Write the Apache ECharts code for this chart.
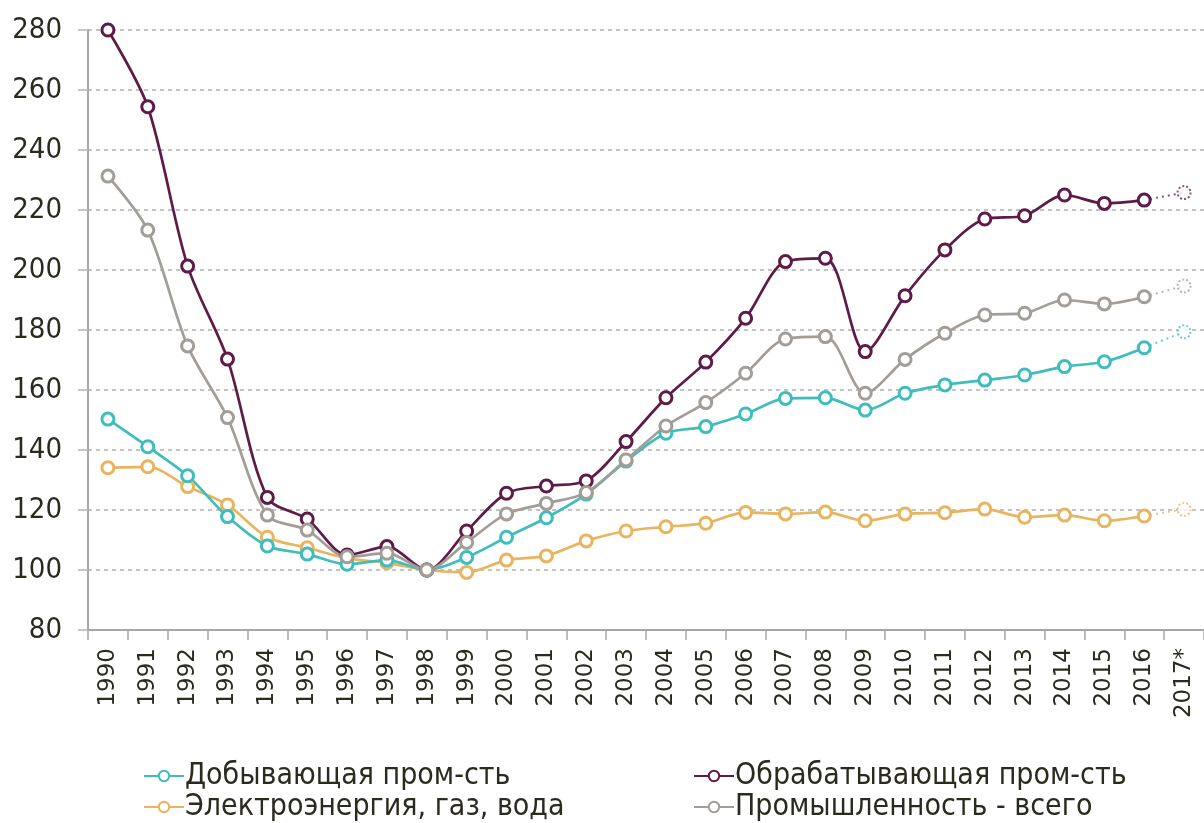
<!DOCTYPE html>
<html>
<head>
<meta charset="utf-8">
<script src="https://cdn.jsdelivr.net/npm/echarts@6/dist/echarts.min.js"></script>
<style>html,body{margin:0;padding:0;background:#fff}#c{width:1204px;height:823px}</style>
</head>
<body>
<div id="c"></div>
<script>
const years = ['1990','1991','1992','1993','1994','1995','1996','1997','1998','1999','2000','2001','2002','2003','2004','2005','2006','2007','2008','2009','2010','2011','2012','2013','2014','2015','2016','2017*'];
const yTicks = [80, 100, 120, 140, 160, 180, 200, 220, 240, 260, 280];

const mining = [150.3,141.1,131.4,117.8,108,105.3,101.9,103.3,100,104.2,110.9,117.4,125.3,136.3,145.6,147.8,152,157.2,157.4,153.3,158.9,161.7,163.3,165,167.8,169.4,174.1];
const miningForecast = 179.4;
const energy = [134.1,134.4,127.8,121.7,110.9,107.4,103.9,102.4,100,99.2,103.3,104.7,109.7,113,114.4,115.6,119.2,118.7,119.3,116.4,118.7,119.1,120.3,117.6,118.3,116.4,118];
const energyForecast = 120.2;
const manufacturing = [280,254.4,201.3,170.3,124.2,117,105,107.8,100,113,125.6,128,129.7,142.8,157.4,169.3,183.9,202.8,203.9,172.8,191.4,206.7,217,218.1,225,222.2,223.3];
const manufacturingForecast = 225.8;
const total = [231.3,213.3,174.7,150.8,118.3,113.3,104.4,105.6,100,109.2,118.7,122.2,125.8,136.7,148,155.8,165.6,177,177.8,158.9,170.2,178.9,185,185.6,190,188.7,191.1];
const totalForecast = 194.7;

const names = {
  mining: 'Добывающая пром-сть',
  manuf: 'Обрабатывающая пром-сть',
  energy: 'Электроэнергия, газ, вода',
  total: 'Промышленность - всего'
};
const colors = { mining: '#3fbdbc', manuf: '#5e1b47', energy: '#e8b45f', total: '#a39d97' };

const FONT_C = "'DejaVu Sans Condensed', 'DejaVu Sans', sans-serif";
const FONT_N = "'DejaVu Sans', sans-serif";
const TXT = '#2a2a1e';

function mainSeries(name, data, color) {
  return {
    name: name, type: 'line', data: data.concat(['-']),
    smooth: 0.3, clip: false,
    symbol: 'circle', symbolSize: 12,
    lineStyle: { color: color, width: 2.7 },
    itemStyle: { color: '#fff', borderColor: color, borderWidth: 3 },
    emphasis: { disabled: true }, z: 3
  };
}
function forecastSeries(name, data, fc, color) {
  const d = years.map(() => '-');
  d[data.length - 1] = { value: data[data.length - 1], symbol: 'none' };
  d[data.length] = fc;
  return {
    name: name + ' (прогноз)', type: 'line', data: d, clip: false,
    symbol: 'circle', symbolSize: 13,
    lineStyle: { color: color, width: 2, type: [2, 4], opacity: 0.75 },
    itemStyle: { color: '#fff', borderColor: color, borderWidth: 2, borderType: [2, 2], opacity: 0.75 },
    emphasis: { disabled: true }, z: 2
  };
}

function legendAt(left, top, name) {
  return {
    left: left, top: top, data: [name],
    itemWidth: 40, itemHeight: 13, itemGap: 0,
    textStyle: { fontFamily: FONT_C, fontSize: 30, color: TXT, padding: [0, 0, 0, -4] },
    selectedMode: false
  };
}

const chart = echarts.init(document.getElementById('c'), null, { renderer: 'canvas' });
chart.setOption({
  animation: false,
  backgroundColor: '#fff',
  grid: { left: 88, right: -3, top: 30, bottom: 193, containLabel: false },
  legend: [
    legendAt(138, 756, names.mining),
    legendAt(688, 756, names.manuf),
    legendAt(138, 787, names.energy),
    legendAt(688, 787, names.total)
  ],
  xAxis: {
    type: 'category', data: years, boundaryGap: true,
    axisLine: { lineStyle: { color: '#a6a6a6', width: 2 } },
    axisTick: { show: true, length: 10, lineStyle: { color: '#a6a6a6', width: 1.5 }, interval: 0 },
    axisLabel: { rotate: 90, interval: 0, margin: 18, fontFamily: FONT_N, fontSize: 23, color: TXT },
    splitLine: { show: false }
  },
  yAxis: {
    type: 'value', min: yTicks[0], max: yTicks[yTicks.length - 1], interval: 20,
    axisLine: { show: true, lineStyle: { color: '#a6a6a6', width: 2 } },
    axisTick: { show: true, length: 10, lineStyle: { color: '#b5b5b5', width: 1.5 } },
    axisLabel: { margin: 26, fontFamily: FONT_C, fontSize: 29, color: TXT },
    splitLine: { show: true, lineStyle: { color: '#b0b0b0', width: 1.5, type: [4, 4] } }
  },
  series: [
    mainSeries(names.energy, energy, colors.energy),
    mainSeries(names.mining, mining, colors.mining),
    mainSeries(names.manuf, manufacturing, colors.manuf),
    mainSeries(names.total, total, colors.total),
    forecastSeries(names.energy, energy, energyForecast, colors.energy),
    forecastSeries(names.mining, mining, miningForecast, colors.mining),
    forecastSeries(names.manuf, manufacturing, manufacturingForecast, colors.manuf),
    forecastSeries(names.total, total, totalForecast, colors.total)
  ]
});
</script>
</body>
</html>
